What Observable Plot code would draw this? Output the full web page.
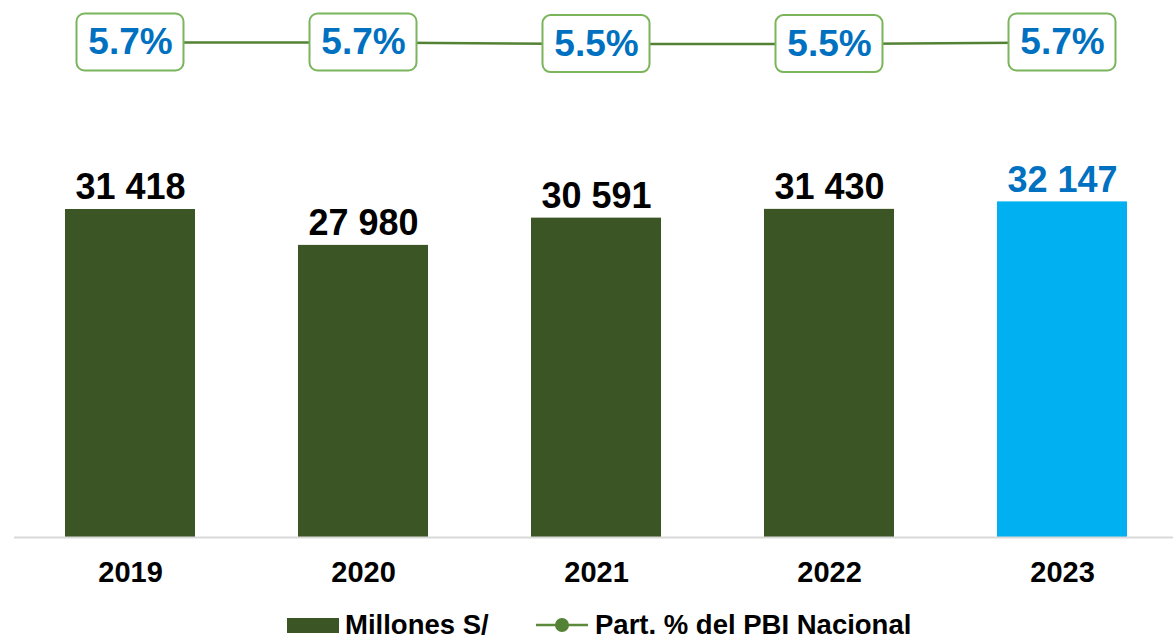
<!DOCTYPE html>
<html>
<head>
<meta charset="utf-8">
<script src="https://cdn.jsdelivr.net/npm/d3@7"></script>
<script src="https://cdn.jsdelivr.net/npm/@observablehq/plot@0.6"></script>
<style>
  html, body { margin: 0; padding: 0; background: #fff; }
  body { font-family: "Liberation Sans", Arial, sans-serif; }
  #wrap { position: relative; width: 1173px; height: 640px; overflow: hidden; }
  #main, #over { position: absolute; left: 0; top: 0; }
  #legend { position: absolute; left: 0; top: 611px; width: 1173px; height: 28px; }
  .item { position: absolute; top: 0; display: flex; align-items: center; height: 28px; line-height: 1; font-weight: bold; font-size: 27.5px; color: #000; white-space: nowrap; }
</style>
</head>
<body>
<div id="wrap">
  <div id="main"></div>
  <div id="over"></div>
  <div id="legend">
    <div class="item" style="left:287px;"><span style="display:inline-block;width:52px;height:15px;background:#3b5524;margin-right:6px;"></span>Millones S/</div>
    <div class="item" style="left:536px;"><svg width="56" height="18" style="margin-right:3px;"><line x1="0" y1="9" x2="52" y2="9" stroke="#5b8a3a" stroke-width="2.5"/><circle cx="26" cy="9" r="7" fill="#548235"/></svg>Part. % del PBI Nacional</div>
  </div>
</div>
<script>
const years = ["2019", "2020", "2021", "2022", "2023"];
const millones = [31418, 27980, 30591, 31430, 32147];
const partPct = [5.7, 5.7, 5.5, 5.5, 5.7];

const data = years.map((y, i) => ({year: y, value: millones[i], pct: partPct[i], last: i === years.length - 1}));

const fmt = d3.formatLocale({decimal: ".", thousands: " ", grouping: [3]}).format(",d");
const font = "'Liberation Sans', Arial, sans-serif";
const xRange = [13.5, 1178.5];

const main = Plot.plot({
  width: 1173,
  height: 605,
  marginLeft: 14,
  marginRight: 0,
  marginTop: 171.6,
  marginBottom: 68,
  style: {fontFamily: font, background: "transparent"},
  x: {domain: years, range: xRange, paddingInner: 0.44, paddingOuter: 0.22},
  y: {domain: [0, 35000], axis: null},
  marks: [
    Plot.barY(data, {x: "year", y: "value", fill: d => d.last ? "#00b0f0" : "#3b5524"}),
    Plot.ruleY([0], {stroke: "#d9d9d9", strokeWidth: 2}),
    Plot.text(data, {x: "year", y: "value", text: d => fmt(d.value), dy: -10, lineAnchor: "bottom",
      fontSize: 36, fontWeight: "bold", fill: d => d.last ? "#0070c0" : "#000"}),
    Plot.axisX({tickSize: 0, tickPadding: 24, fontSize: 29, fontWeight: "bold", color: "#000", label: null})
  ]
});
document.getElementById("main").appendChild(main);

const over = Plot.plot({
  width: 1173,
  height: 100,
  marginLeft: 14,
  marginRight: 0,
  marginTop: 0,
  marginBottom: 0,
  style: {fontFamily: font, background: "transparent"},
  x: {domain: years, range: xRange, paddingInner: 0.44, paddingOuter: 0.22, axis: null},
  y: {domain: [5.5, 5.7], range: [43.6, 42], axis: null},
  marks: [
    Plot.line(data, {x: "year", y: "pct", stroke: "#548235", strokeWidth: 2.5}),
    Plot.barY(data, {x: "year", y1: "pct", y2: "pct", insetLeft: 11.5, insetRight: 11.5,
      insetTop: -28.5, insetBottom: -28.5, rx: 8, fill: "#fff", stroke: "#7ab55c", strokeWidth: 2}),
    Plot.text(data, {x: "year", y: "pct", text: d => d.pct.toFixed(1) + "%", fontSize: 37,
      fontWeight: "bold", fill: "#0070c0"})
  ]
});
document.getElementById("over").appendChild(over);
</script>
</body>
</html>
